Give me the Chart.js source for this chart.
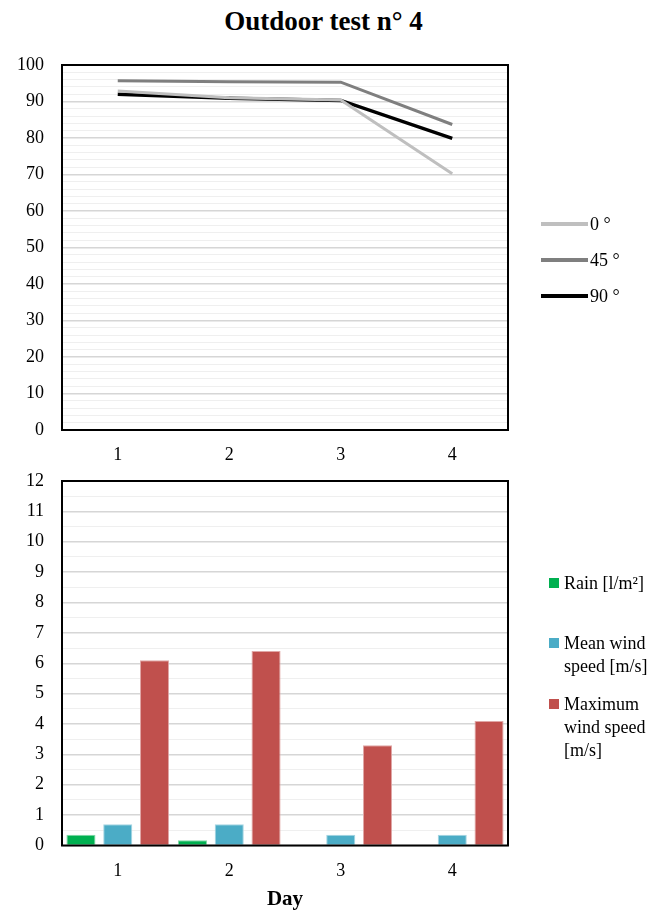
<!DOCTYPE html>
<html>
<head>
<meta charset="utf-8">
<title>Outdoor test n° 4</title>
<script src="https://cdn.jsdelivr.net/npm/chart.js@4.4.0/dist/chart.umd.min.js"></script>
<style>
  html, body { margin: 0; padding: 0; background: #fff; }
  body {
    width: 659px; height: 912px; position: relative; overflow: hidden;
    font-family: "Liberation Serif", "Times New Roman", serif; color: #000;
  }
  .box { position: absolute; left: 0; width: 659px; }
  #boxTemp { top: 0; height: 470px; }
  #boxWind { top: 470px; height: 442px; }
  #title {
    position: absolute; left: 0; top: 6px; width: 647px; margin: 0;
    text-align: center; font-size: 27px; line-height: 31px; font-weight: bold;
  }
  .item { position: absolute; font-size: 18px; white-space: nowrap; }
  .item .txt { position: absolute; top: 0; }
  .item .swatch { position: absolute; left: 0; }
</style>
</head>
<body>
<h1 id="title">Outdoor test n° 4</h1>
<div class="box" id="boxTemp"><canvas id="chartTemp"></canvas></div>
<div class="box" id="boxWind"><canvas id="chartWind"></canvas></div>
<div id="legendTemp"></div>
<div id="legendWind"></div>

<script>
// === DADOS ===
const days = ['1', '2', '3', '4'];

// grafico de cima (linhas)
const angle0 = [92.9, 91.0, 90.4, 70.2];
const angle45 = [95.7, 95.4, 95.3, 83.7];
const angle90 = [92.0, 90.9, 90.3, 79.9];

// grafico de baixo (barras)
const rain = [0.35, 0.17, 0, 0];
const meanWind = [0.7, 0.7, 0.35, 0.35];
const maxWind = [6.1, 6.4, 3.3, 4.1];

Chart.defaults.font.family = '"Liberation Serif", "Times New Roman", serif';
Chart.defaults.font.size = 18;
Chart.defaults.color = '#000';

// moldura preta em volta da area do grafico
const plotFrame = {
  id: 'plotFrame',
  afterDraw(chart) {
    const { ctx, chartArea: a } = chart;
    ctx.save();
    ctx.strokeStyle = '#000';
    ctx.lineWidth = 2;
    ctx.strokeRect(a.left, a.top, a.right - a.left, a.bottom - a.top);
    ctx.restore();
  }
};

// linhas de grade: principais mais escuras, secundarias bem claras
function isMajor(v, major) {
  return Math.abs(v / major - Math.round(v / major)) < 1e-6;
}
function gridColor(major) {
  return c => (isMajor(c.tick.value, major) ? '#d6d6d6' : '#efefef');
}
function gridWidth(major) {
  return c => (isMajor(c.tick.value, major) ? 1.5 : 1);
}

// eixo x comum aos dois graficos (o tickLength so serve de espaco)
function xAxis(extra) {
  return Object.assign({
    offset: true,
    grid: { display: false, drawTicks: true, tickLength: 14.5 },
    border: { display: false },
    ticks: { padding: 0 }
  }, extra);
}

// eixo y: as marcas ficam invisiveis, so afastam os rotulos
function yAxis(max, step, major) {
  return {
    min: 0,
    max: max,
    border: { display: false },
    grid: {
      drawTicks: true,
      tickLength: 18,
      tickColor: 'rgba(0,0,0,0)',
      color: gridColor(major),
      lineWidth: gridWidth(major)
    },
    ticks: {
      stepSize: step,
      autoSkip: false,
      padding: 0,
      callback: v => (isMajor(v, major) ? v : '')
    },
    afterFit(scale) { scale.width = 62; }
  };
}

// === GRAFICO DE LINHAS ===
const chartTemp = new Chart(document.getElementById('chartTemp'), {
  type: 'line',
  data: {
    labels: days,
    datasets: [
      { label: '0 °', data: angle0, borderColor: '#bfbfbf', borderWidth: 3 },
      { label: '45 °', data: angle45, borderColor: '#7f7f7f', borderWidth: 3 },
      { label: '90 °', data: angle90, borderColor: '#000000', borderWidth: 3.5 }
    ]
  },
  options: {
    responsive: true,
    maintainAspectRatio: false,
    animation: false,
    elements: { point: { radius: 0 }, line: { tension: 0, fill: false } },
    layout: { padding: { top: 65, right: 151, bottom: 3.9, left: 0 } },
    plugins: {
      legend: { display: false },
      tooltip: { enabled: false }
    },
    scales: {
      x: xAxis({}),
      y: yAxis(100, 2, 10)
    }
  },
  plugins: [plotFrame]
});

// === GRAFICO DE BARRAS ===
const chartWind = new Chart(document.getElementById('chartWind'), {
  type: 'bar',
  data: {
    labels: days,
    datasets: [
      { label: ['Rain [l/m²]'], data: rain, backgroundColor: '#00b050', borderColor: '#7fd8a7' },
      { label: ['Mean wind', 'speed [m/s]'], data: meanWind, backgroundColor: '#4bacc6', borderColor: '#a5d5e2' },
      { label: ['Maximum', 'wind speed', '[m/s]'], data: maxWind, backgroundColor: '#c0504d', borderColor: '#e0a7a6' }
    ]
  },
  options: {
    responsive: true,
    maintainAspectRatio: false,
    animation: false,
    datasets: { bar: { categoryPercentage: 0.99, barPercentage: 0.79, borderWidth: 1 } },
    layout: { padding: { top: 11, right: 151, bottom: 0, left: 0 } },
    plugins: {
      legend: { display: false },
      tooltip: { enabled: false }
    },
    scales: {
      x: xAxis({
        title: {
          display: true,
          text: 'Day',
          font: { size: 21, weight: 'bold' },
          color: '#000',
          padding: { top: 5.2, bottom: 0 }
        }
      }),
      y: yAxis(12, 0.5, 1)
    }
  },
  plugins: [plotFrame]
});

// === LEGENDAS (HTML, feitas a partir dos datasets) ===
function htmlLegend(chart, el, cfg) {
  chart.data.datasets.forEach((ds, i) => {
    const item = document.createElement('div');
    item.className = 'item';
    item.style.left = cfg.left + 'px';
    item.style.top = cfg.tops[i] + 'px';
    item.style.lineHeight = cfg.lineHeight + 'px';

    const sw = document.createElement('span');
    sw.className = 'swatch';
    if (cfg.kind === 'line') {
      const h = ds.borderWidth + 0.5;
      sw.style.width = '47px';
      sw.style.height = h + 'px';
      sw.style.top = (cfg.lineHeight / 2 - h / 2) + 'px';
      sw.style.background = ds.borderColor;
    } else {
      sw.style.width = '10px';
      sw.style.height = '10px';
      sw.style.top = (cfg.lineHeight / 2 - 5) + 'px';
      sw.style.background = ds.backgroundColor;
    }
    item.appendChild(sw);

    const txt = document.createElement('span');
    txt.className = 'txt';
    txt.style.left = cfg.textOffset + 'px';
    const lines = Array.isArray(ds.label) ? ds.label : [ds.label];
    lines.forEach((l, k) => {
      if (k > 0) txt.appendChild(document.createElement('br'));
      txt.appendChild(document.createTextNode(l));
    });
    item.appendChild(txt);
    el.appendChild(item);
  });
}

htmlLegend(chartTemp, document.getElementById('legendTemp'), {
  kind: 'line', left: 541, tops: [213, 249, 285], lineHeight: 22, textOffset: 49
});
htmlLegend(chartWind, document.getElementById('legendWind'), {
  kind: 'box', left: 549, tops: [571.5, 631.5, 692.5], lineHeight: 23, textOffset: 15
});
</script>
</body>
</html>
